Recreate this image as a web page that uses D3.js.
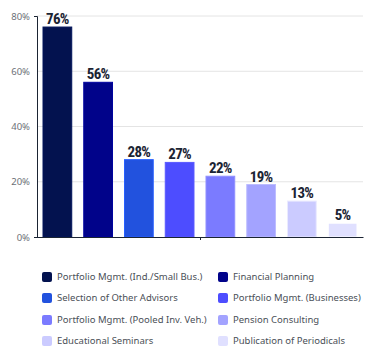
<!DOCTYPE html>
<html><head><meta charset="utf-8">
<script src="https://cdn.jsdelivr.net/npm/d3@7"></script>
<style>body{margin:0;background:#fff;}svg{display:block;}</style>
</head><body>
<svg id="c" width="372" height="357"></svg>
<script>
const categories = ["Portfolio Mgmt. (Ind./Small Bus.)","Financial Planning","Selection of Other Advisors","Portfolio Mgmt. (Businesses)","Portfolio Mgmt. (Pooled Inv. Veh.)","Pension Consulting","Educational Seminars","Publication of Periodicals"];
const values = [76,56,28,27,22,19,13,5];
const colors = ["#03124f","#01038a","#2252de","#4d4dff","#7b7bff","#a3a3ff","#cbcbff","#e0e0ff"];
const yTicks = [0,20,40,60,80];

const svg = d3.select("#c");
const m = {l:37, r:363, t:16, b:237};
const x = d3.scaleBand().domain(categories).range([m.l, m.r]).paddingInner(0.295).paddingOuter(0.1475);
const y = d3.scaleLinear().domain([0,80]).range([m.b, m.t]);

// gridlines
svg.append("g").selectAll("line").data(yTicks.filter(d=>d>0)).join("line")
  .attr("x1", m.l).attr("x2", m.r).attr("y1", d=>y(d)).attr("y2", d=>y(d))
  .attr("stroke","#e4e4e4").attr("stroke-width",1);

// bars
svg.append("g").selectAll("rect").data(values).join("rect")
  .attr("x",(d,i)=>x(categories[i])).attr("width",x.bandwidth())
  .attr("y",d=>y(d)).attr("height",d=>y(0)-y(d))
  .attr("fill",(d,i)=>colors[i])
  .attr("stroke",(d,i)=>d3.color(colors[i]).brighter(0.4))
  .attr("stroke-width",1);

// value labels
svg.append("g").selectAll("text").data(values).join("text")
  .attr("x",(d,i)=>x(categories[i])+x.bandwidth()/2).attr("y",d=>y(d)-3)
  .attr("text-anchor","middle")
  .attr("font-family","'Liberation Sans Narrow','Roboto Condensed',sans-serif")
  .attr("font-weight","bold").attr("font-size","15px").attr("letter-spacing","-0.6px").attr("fill","#1b2433")
  .text(d=>d+"%");

// y axis
const ya = svg.append("g").attr("transform",`translate(${m.l},0)`)
  .call(d3.axisLeft(y).tickValues(yTicks).tickFormat(d=>d+"%").tickSizeInner(0).tickSizeOuter(3).tickPadding(7));
ya.select(".domain").attr("stroke","#1b2433");
ya.selectAll("text").attr("font-family","'Noto Sans',sans-serif").attr("font-size","9.5px").attr("fill","#6b6f76");

// x axis
const xa = svg.append("g").attr("transform",`translate(0,${m.b})`)
  .call(d3.axisBottom(d3.scaleLinear().domain([0,1]).range([m.l-3, m.r])).tickValues([ (200-(m.l-3))/(m.r-(m.l-3)) ]).tickSizeInner(3).tickSizeOuter(0).tickFormat(""));
xa.selectAll("path,line").attr("stroke","#1b2433");

// legend
const legRows = [277,298,320,341];
const legCols = [42,218];
const lg = svg.append("g").selectAll("g").data(categories).join("g")
  .attr("transform",(d,i)=>`translate(${legCols[i%2]},${legRows[Math.floor(i/2)]})`);
lg.append("rect").attr("x",0).attr("y",-5).attr("width",10).attr("height",10).attr("rx",2)
  .attr("fill",(d,i)=>colors[i]);
lg.append("text").attr("x",15).attr("y",0).attr("dy","0.35em")
  .attr("font-family","'Noto Sans',sans-serif").attr("font-size","9.5px").attr("fill","#4a4f57")
  .text(d=>d);
</script>
</body></html>
